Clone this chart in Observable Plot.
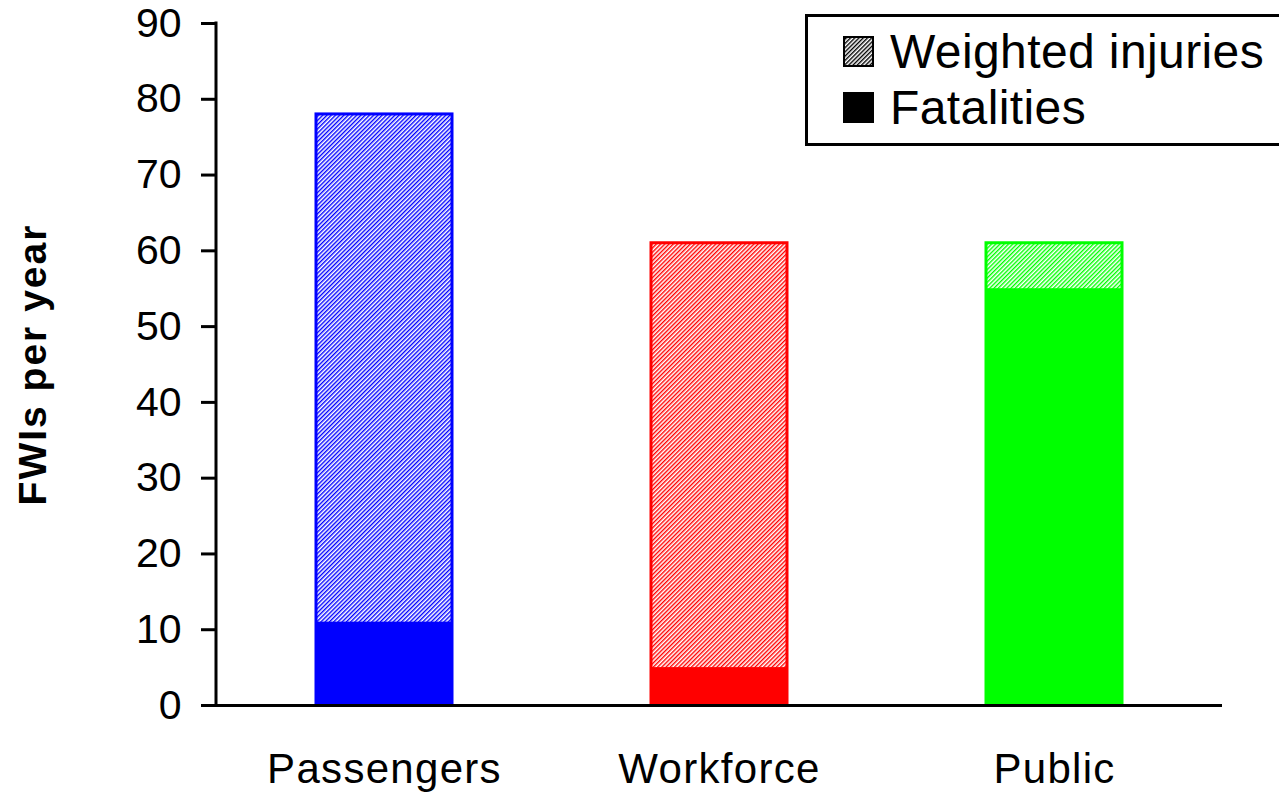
<!DOCTYPE html>
<html>
<head>
<meta charset="utf-8">
<script src="https://cdn.jsdelivr.net/npm/d3@7"></script>
<script src="https://cdn.jsdelivr.net/npm/@observablehq/plot@0.6"></script>
<style>
  html, body { margin: 0; padding: 0; background: #fff; overflow: hidden; }
  #wrap { position: relative; width: 1279px; height: 795px; overflow: hidden; font-family: "Liberation Sans", Arial, sans-serif; }
  #legend { position: absolute; left: 805px; top: 14px; width: 490px; height: 132px; border: 3px solid #000; box-sizing: border-box; background: #fff; }
  .lg { position: absolute; left: 35px; height: 40px; display: flex; align-items: center; font-size: 48px; letter-spacing: 0.4px; color: #000; white-space: nowrap; }
  .lg svg { margin-right: 16px; flex: none; }
</style>
</head>
<body>
<div id="wrap">
  <div id="chart"></div>
  <div id="legend">
    <div class="lg" style="top: 14px;"><svg width="31" height="31"><defs><pattern id="hatch-legend" width="3" height="3" patternUnits="userSpaceOnUse" patternTransform="rotate(45)"><rect width="3" height="3" fill="#fff"/><rect width="1.4" height="3" fill="#000"/></pattern></defs><rect x="1" y="1" width="29" height="29" fill="url(#hatch-legend)" stroke="#000" stroke-width="2"/></svg>Weighted injuries</div>
    <div class="lg" style="top: 70px;"><svg width="31" height="31"><rect x="1" y="1" width="29" height="29" fill="#000" stroke="#000" stroke-width="2"/></svg>Fatalities</div>
  </div>
</div>
<script>
const categories = ["Passengers", "Workforce", "Public"];
const fatalities = [11, 5, 55];
const weightedInjuries = [67, 56, 6];
const seriesColors = ["#0000ff", "#ff0000", "#00ff00"];
const yTicks = [0, 10, 20, 30, 40, 50, 60, 70, 80, 90];

const data = categories.map((c, i) => ({
  category: c,
  fatal: fatalities[i],
  injury: weightedInjuries[i],
  total: fatalities[i] + weightedInjuries[i],
  color: seriesColors[i],
  hatch: `url(#hatch-${i})`
}));

const font = "Liberation Sans, Arial, sans-serif";

const chart = Plot.plot({
  width: 1279,
  height: 795,
  marginLeft: 216,
  marginRight: 57,
  marginTop: 23,
  marginBottom: 90,
  style: { fontFamily: font, background: "#fff" },
  x: { domain: categories, paddingInner: 0.595, paddingOuter: 0.2975, label: null },
  y: { domain: [0, 90], label: null },
  color: { type: "identity" },
  marks: [
    Plot.barY(data, { x: "category", y1: 0, y2: "total", fill: "hatch", stroke: "color", strokeWidth: 3 }),
    Plot.barY(data, { x: "category", y1: 0, y2: "fatal", fill: "color" }),
    Plot.axisY({ ticks: yTicks, tickSize: 15, tickPadding: 20, fontSize: 41, strokeWidth: 3, color: "#000", label: null }),
    Plot.axisX({ tickSize: 0, tickPadding: 48, fontSize: 42, color: "#000", label: null }),
    Plot.ruleY([0], { strokeWidth: 3, stroke: "#000" }),
    (index, scales, values, dims) => {
      const l = document.createElementNS("http://www.w3.org/2000/svg", "line");
      l.setAttribute("x1", dims.marginLeft);
      l.setAttribute("x2", dims.marginLeft);
      l.setAttribute("y1", scales.y(90) - 1.5);
      l.setAttribute("y2", scales.y(0) + 1.5);
      l.setAttribute("stroke", "#000");
      l.setAttribute("stroke-width", 3);
      return l;
    },
    Plot.text(["FWIs per year"], { frameAnchor: "left", dx: -183, rotate: -90, textAnchor: "middle", fontSize: 39, fontWeight: "bold", fill: "#000" })
  ]
});

// hatch pattern definitions
const ns = "http://www.w3.org/2000/svg";
const defs = document.createElementNS(ns, "defs");
seriesColors.forEach((c, i) => {
  const p = document.createElementNS(ns, "pattern");
  p.setAttribute("id", `hatch-${i}`);
  p.setAttribute("width", 3);
  p.setAttribute("height", 3);
  p.setAttribute("patternUnits", "userSpaceOnUse");
  p.setAttribute("patternTransform", "rotate(45)");
  const bg = document.createElementNS(ns, "rect");
  bg.setAttribute("width", 3); bg.setAttribute("height", 3); bg.setAttribute("fill", "#fff");
  const ln = document.createElementNS(ns, "rect");
  ln.setAttribute("width", 1.4); ln.setAttribute("height", 3); ln.setAttribute("fill", c);
  p.appendChild(bg); p.appendChild(ln);
  defs.appendChild(p);
});
chart.insertBefore(defs, chart.firstChild);

// slightly wider letter spacing to match the reference typeface
d3.select(chart).selectAll("[aria-label='x-axis tick label'] text").style("letter-spacing", "1.3px");
d3.select(chart).selectAll("[aria-label='text'] text").style("letter-spacing", "2px");

document.getElementById("chart").appendChild(chart);
</script>
</body>
</html>
